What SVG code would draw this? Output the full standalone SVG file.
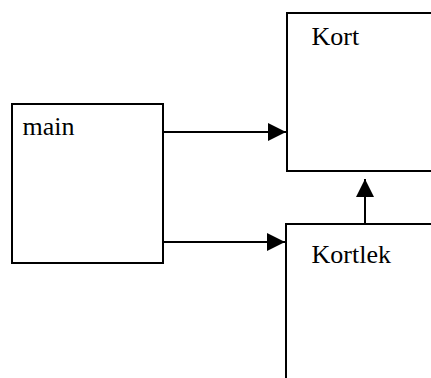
<svg xmlns="http://www.w3.org/2000/svg" width="431" height="378" viewBox="0 0 431 378">
  <style>
    .box { fill: #ffffff; stroke: #000000; stroke-width: 2; }
    .edge { stroke: #000000; stroke-width: 2; fill: none; }
  </style>
  <defs>
    <marker id="head" viewBox="0 0 18 18" refX="18" refY="9" markerWidth="18" markerHeight="18" markerUnits="userSpaceOnUse" orient="auto">
      <path d="M0,0 L18,9 L0,18 Z" fill="#000000"/>
    </marker>
  </defs>
  <rect width="431" height="378" fill="#ffffff"/>

  <g id="main">
    <rect class="box" x="12" y="104" width="151" height="159"/>
    <text x="22.5" y="135" font-family="Liberation Serif" font-size="26">main</text>
  </g>

  <g id="kort">
    <rect class="box" x="287" y="13" width="160" height="158"/>
    <text x="311.5" y="45" font-family="Liberation Serif" font-size="26">Kort</text>
  </g>

  <g id="kortlek">
    <rect class="box" x="286" y="224" width="160" height="170"/>
    <text x="311.5" y="263" font-family="Liberation Serif" font-size="26">Kortlek</text>
  </g>

  <g id="connectors">
    <line class="edge" x1="163" y1="132" x2="286" y2="132" marker-end="url(#head)"/>
    <line class="edge" x1="163" y1="242" x2="285" y2="242" marker-end="url(#head)"/>
    <line class="edge" x1="365" y1="224" x2="365" y2="179" marker-end="url(#head)"/>
  </g>
</svg>
